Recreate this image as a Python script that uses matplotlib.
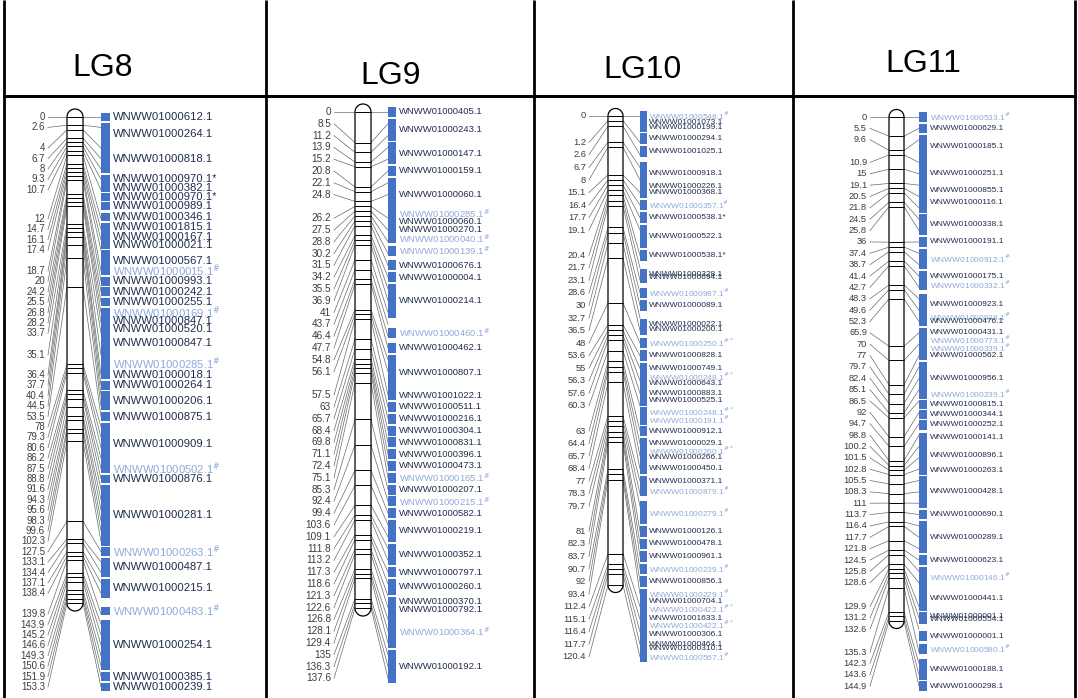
import matplotlib
matplotlib.use("Agg")
import matplotlib.pyplot as plt
import numpy as np
from matplotlib.patches import Rectangle

W, H = 1078, 698

# ---- linkage group data: locus positions (cM) and scaffold bins ----
# bins: (scaffold name, first locus, last locus) - loci counted from 0 along the group
lg8_pos = [0, 2.6, 4, 6.7, 8, 9.3, 10.7, 12, 14.7, 16.1, 17.4, 18.7, 20, 24.2, 25.5, 26.8,
           28.2, 33.7, 35.1, 36.4, 37.7, 40.4, 44.5, 53.5, 78, 79.3, 80.6, 86.2, 87.5, 88.8,
           91.6, 94.3, 95.6, 98.3, 99.6, 102.3, 127.5, 133.1, 134.4, 137.1, 138.4, 139.8,
           143.9, 145.2, 146.6, 149.3, 150.6, 151.9, 153.3]
lg8_bins = [
    ("WNWW01000612.1", 0, 0), ("WNWW01000264.1", 1, 1.6), ("WNWW01000818.1", 2, 4),
    ("WNWW01000970.1*", 5, 5), ("WNWW01000382.1", 5.8, 5.8), ("WNWW01000970.1*", 6.25, 6.25),
    ("WNWW01000989.1", 6.56, 6.56), ("WNWW01000346.1", 6.93, 6.93), ("WNWW01001815.1", 7.8, 7.8),
    ("WNWW01000167.1", 8.7, 8.7), ("WNWW01000021.1", 9.5, 9.5), ("WNWW01000567.1", 10.2, 10.8),
    ("WNWW01000015.1#", 11, 11), ("WNWW01000993.1", 12, 12), ("WNWW01000242.1", 13, 13),
    ("WNWW01000255.1", 14, 14), ("WNWW01000169.1#", 15, 15), ("WNWW01000847.1", 15.8, 15.8),
    ("WNWW01000520.1", 16.6, 16.6), ("WNWW01000847.1", 17, 17.9), ("WNWW01000285.1#", 18, 18.9),
    ("WNWW01000018.1", 19, 19), ("WNWW01000264.1", 20, 20), ("WNWW01000206.1", 21, 22),
    ("WNWW01000875.1", 23, 23), ("WNWW01000909.1", 24, 27.3), ("WNWW01000502.1#", 28, 28),
    ("WNWW01000876.1", 29, 29), ("WNWW01000281.1", 30, 35), ("WNWW01000263.1#", 36, 36),
    ("WNWW01000487.1", 37, 38), ("WNWW01000215.1", 39, 40), ("WNWW01000483.1#", 40.85, 40.85),
    ("WNWW01000254.1", 42, 46), ("WNWW01000385.1", 47, 47), ("WNWW01000239.1", 48, 48),
]

lg9_pos = [0, 8.5, 11.2, 13.9, 15.2, 20.8, 22.1, 24.8, 26.2, 27.5, 28.8, 30.2, 31.5, 34.2,
           35.5, 36.9, 41, 43.7, 46.4, 47.7, 54.8, 56.1, 57.5, 63, 65.7, 68.4, 69.8, 71.1,
           72.4, 75.1, 85.3, 92.4, 99.4, 103.6, 109.1, 111.8, 113.2, 117.3, 118.6, 121.3,
           122.6, 126.8, 128.1, 129.4, 135, 136.3, 137.6]
lg9_bins = [
    ("WNWW01000405.1", 0, 0), ("WNWW01000243.1", 1, 2), ("WNWW01000147.1", 3, 4),
    ("WNWW01000159.1", 5, 5), ("WNWW01000060.1", 6, 7.45), ("WNWW01000285.1#", 7.8, 7.8),
    ("WNWW01000060.1", 8.3, 8.3), ("WNWW01000270.1", 9, 9), ("WNWW01000040.1#", 9.7, 9.7),
    ("WNWW01000139.1#", 10.75, 10.75), ("WNWW01000676.1", 12, 12), ("WNWW01000004.1", 13, 13),
    ("WNWW01000214.1", 14, 16), ("WNWW01000460.1#", 17.7, 17.7), ("WNWW01000462.1", 19, 19),
    ("WNWW01000807.1", 20, 21.6), ("WNWW01001022.1", 22, 22), ("WNWW01000511.1", 23, 23),
    ("WNWW01000216.1", 24, 24), ("WNWW01000304.1", 25, 25), ("WNWW01000831.1", 26, 26),
    ("WNWW01000396.1", 27, 27), ("WNWW01000473.1", 28, 28), ("WNWW01000165.1#", 29, 29),
    ("WNWW01000207.1", 30, 30), ("WNWW01000215.1#", 31, 31), ("WNWW01000582.1", 32, 32),
    ("WNWW01000219.1", 33, 34), ("WNWW01000352.1", 35, 36), ("WNWW01000797.1", 37, 37),
    ("WNWW01000260.1", 38, 38.5), ("WNWW01000370.1", 39.5, 39.5), ("WNWW01000792.1", 40.2, 40.2),
    ("WNWW01000364.1#", 41, 43), ("WNWW01000192.1", 44, 46),
]

lg10_pos = [0, 1.2, 2.6, 6.7, 8, 15.1, 16.4, 17.7, 19.1, 20.4, 21.7, 23.1, 28.6, 30, 32.7,
            36.5, 48, 53.6, 55, 56.3, 57.6, 60.3, 63, 64.4, 65.7, 68.4, 77, 78.3, 79.7, 81,
            82.3, 83.7, 90.7, 92, 93.4, 112.4, 115.1, 116.4, 117.7, 120.4]
lg10_bins = [
    ("WNWW01000548.1#", 0, 0), ("WNWW01001073.1", 0.23, 0.23), ("WNWW01000199.1", 0.42, 0.42),
    ("WNWW01000294.1", 0.85, 0.85), ("WNWW01001025.1", 1.73, 1.73), ("WNWW01000918.1", 3, 4),
    ("WNWW01000226.1", 4.55, 4.55), ("WNWW01000368.1", 5, 5), ("WNWW01000357.1#", 6, 6),
    ("WNWW01000538.1*", 7, 7), ("WNWW01000522.1", 8, 8.5), ("WNWW01000538.1*", 9, 9),
    ("WNWW01000328.1", 10.55, 10.55), ("WNWW01000694.1", 10.75, 10.75), ("WNWW01000987.1#", 12, 12),
    ("WNWW01000089.1", 13, 13), ("WNWW01000022.1", 14.5, 14.5), ("WNWW01000200.1", 14.9, 14.9),
    ("WNWW01000250.1#*", 16, 16), ("WNWW01000828.1", 17, 17), ("WNWW01000749.1", 18, 18),
    ("WNWW01000248.1#*", 18.7, 18.7), ("WNWW01000643.1", 19.2, 19.2), ("WNWW01000883.1", 20, 20),
    ("WNWW01000525.1", 20.6, 20.6), ("WNWW01000248.1#*", 21.25, 21.25), ("WNWW01000191.1#", 21.55, 21.55),
    ("WNWW01000912.1", 22, 22), ("WNWW01000029.1", 23, 23), ("WNWW01000260.1#*", 23.6, 23.6),
    ("WNWW01000266.1", 24.15, 24.15), ("WNWW01000450.1", 25, 25), ("WNWW01000371.1", 26, 26),
    ("WNWW01000879.1#", 26.75, 26.75), ("WNWW01000279.1#", 28, 28.5), ("WNWW01000126.1", 29, 29),
    ("WNWW01000478.1", 30, 30), ("WNWW01000961.1", 31, 31), ("WNWW01000239.1#", 32, 32),
    ("WNWW01000856.1", 33, 33), ("WNWW01000229.1#", 34, 34), ("WNWW01000704.1", 34.6, 34.6),
    ("WNWW01000422.1#*", 35.15, 35.15), ("WNWW01001633.1", 35.9, 35.9), ("WNWW01000422.1#*", 36.45, 36.45),
    ("WNWW01000306.1", 37.2, 37.2), ("WNWW01000464.1", 38, 38), ("WNWW01000310.1", 38.3, 38.3),
    ("WNWW01000567.1#", 39, 39),
]

lg11_pos = [0, 5.5, 9.6, 10.9, 15, 19.1, 20.5, 21.8, 24.5, 25.8, 36, 37.4, 38.7, 41.4, 42.7,
            48.3, 49.6, 52.3, 65.9, 70, 77, 79.7, 82.4, 85.1, 86.5, 92, 94.7, 98.8, 100.2,
            101.5, 102.8, 105.5, 108.3, 111, 113.7, 116.4, 117.7, 121.8, 124.5, 125.8, 128.6,
            129.9, 131.2, 132.6, 135.3, 142.3, 143.6, 144.9]
lg11_bins = [
    ("WNWW01000533.1#", 0, 0), ("WNWW01000629.1", 1, 1), ("WNWW01000185.1", 2, 2.6),
    ("WNWW01000251.1", 3, 5), ("WNWW01000855.1", 5.5, 5.5), ("WNWW01000116.1", 6, 7),
    ("WNWW01000338.1", 8, 9), ("WNWW01000191.1", 10, 10), ("WNWW01000912.1#", 11, 12),
    ("WNWW01000175.1", 13, 13), ("WNWW01000332.1#", 13.8, 13.8), ("WNWW01000923.1", 15, 16),
    ("WNWW01000938.1#", 16.6, 16.6), ("WNWW01000476.1", 17, 17), ("WNWW01000431.1", 18, 18),
    ("WNWW01000773.1#", 18.65, 18.65), ("WNWW01000339.1#", 19.35, 19.35), ("WNWW01000562.1", 20, 20),
    ("WNWW01000956.1", 21, 23), ("WNWW01000239.1#", 23.4, 23.4), ("WNWW01000815.1", 24.3, 24.3),
    ("WNWW01000344.1", 25.2, 25.2), ("WNWW01000252.1", 26.1, 26.1), ("WNWW01000141.1", 27.2, 27.2),
    ("WNWW01000896.1", 28, 29.6), ("WNWW01000263.1", 30.1, 30.1), ("WNWW01000428.1", 31, 33),
    ("WNWW01000690.1", 34, 34), ("WNWW01000289.1", 35, 37), ("WNWW01000623.1", 38, 38),
    ("WNWW01000146.1#", 39, 40), ("WNWW01000441.1", 40.3, 41), ("WNWW01000001.1", 41.85, 41.85),
    ("WNWW01000554.1", 42.15, 42.15), ("WNWW01000001.1", 43.3, 43.3), ("WNWW01000580.1#", 43.87, 43.87),
    ("WNWW01000188.1", 45, 46), ("WNWW01000298.1", 47, 47),
]

# ---- layout of each panel (pixels) ----
panels = [
    dict(title="LG8", pos=lg8_pos, bins=lg8_bins, gaps={1: 1.0, 6: 1.8, 10: 1.0, 17: 1.1, 18: 0.9, 40: 1.0},
         cell=(4, 266), y0=117, y1=603, chrom=(67, 83), num_x=45, bar=(101, 110), text_x=113,
         num_fs=6.9, name_fs=8.1, slot_px=10.4, head=(103, 76)),
    dict(title="LG9", pos=lg9_pos, bins=lg9_bins, gaps={7: 1.0, 21: 1.0},
         cell=(266, 534), y0=112, y1=608, chrom=(355, 371), num_x=331, bar=(388, 396), text_x=399,
         num_fs=7.2, name_fs=6.8, slot_px=11.8, head=(391, 84)),
    dict(title="LG10", pos=lg10_pos, bins=lg10_bins, gaps={0: 1.1, 8: 1.0, 21: 1.0, 28: 1.0},
         cell=(534, 793), y0=116, y1=585, chrom=(608, 623), num_x=586, bar=(640, 647), text_x=649,
         num_fs=6.7, name_fs=6.0, slot_px=12.55, head=(642, 78)),
    dict(title="LG11", pos=lg11_pos, bins=lg11_bins, gaps={2: 1.0, 40: 1.1, 43: 1.0},
         cell=(793, 1075), y0=117, y1=621, chrom=(889, 904), num_x=867, bar=(919, 927), text_x=930,
         num_fs=6.7, name_fs=6.0, slot_px=11.36, head=(923, 72)),
]

BODY_TOP = 98
NUM_FONT = ["Liberation Sans", "DejaVu Sans"]
NAME_FONT = ["Liberation Sans", "DejaVu Sans"]
DARK = "#1f2c4c"
LIGHT = "#8eaadb"
BAR = "#4472c4"
LINE = "#6a6a6a"


def fmt_name(name):
    if name.endswith("#*"):
        return name[:-2] + r"$^{\#*}$"
    if name.endswith("#"):
        return name[:-1] + r"$^{\#}$"
    return name


fig = plt.figure(figsize=(W / 100, H / 100), dpi=100)

# background table
bg = fig.add_axes([0, 0, 1, 1])
bg.set_xlim(0, W)
bg.set_ylim(H, 0)
bg.axis("off")
for x in [4, 266, 534, 793, 1075]:
    bg.plot([x, x], [0, H], color="black", lw=2.0, solid_capstyle="butt")
bg.plot([4, 1075], [96, 96], color="black", lw=2.2)

for p in panels:
    bg.text(p["head"][0], p["head"][1], p["title"], ha="center", va="baseline",
            fontsize=23, family=NAME_FONT, color="black")

    pos = np.array(p["pos"], dtype=float)
    n = len(pos)
    scale = (p["y1"] - p["y0"]) / pos.max()        # px per cM
    slot_cm = p["slot_px"] / scale

    l, r = p["cell"]
    ax = fig.add_axes([l / W, 0, (r - l) / W, (H - BODY_TOP) / H])
    ax.set_xlim(l, r)
    ax.set_ylim((H - p["y0"]) / scale, (BODY_TOP - p["y0"]) / scale)
    ax.axis("off")

    # label slots for the loci (spread out, with extra room where needed)
    extra = np.zeros(n)
    for k, v in p["gaps"].items():
        extra[k + 1:] += v
    slots = (np.arange(n) + extra) * slot_cm

    def slot_at(f):
        return np.interp(f, np.arange(n), slots)

    c0, c1 = p["chrom"]
    cx = (c0 + c1) / 2
    rad = (c1 - c0) / 2
    rc = rad / scale
    L = pos.max()
    t1 = np.linspace(np.pi, 0, 40)
    t2 = np.linspace(0, np.pi, 40)
    ox = np.concatenate([cx + rad * np.cos(t1), [c1, c1], cx + rad * np.cos(t2), [c0, c0]])
    oy = np.concatenate([-rc * np.sin(t1), [0, L], L + rc * np.sin(t2), [L, 0]])
    ax.fill(ox, oy, facecolor="white", edgecolor="black", lw=0.9, zorder=3)
    ax.hlines(pos, c0, c1, color="black", lw=0.7, zorder=4)

    # position labels and connectors
    for i in range(n):
        v = pos[i]
        ax.text(p["num_x"], slots[i], f"{v:g}", ha="right", va="center", fontsize=p["num_fs"],
                family=NUM_FONT, color="#3c3c3c", clip_on=False)
        ax.plot([p["num_x"] + 3, c0], [slots[i], v], color=LINE, lw=0.5, zorder=2)
        ax.plot([c1, p["bar"][0]], [v, slots[i]], color=LINE, lw=0.5, zorder=2)

    # scaffold bins
    h = 0.42 * slot_cm
    b0, b1 = p["bar"]
    for name, lo, hi in p["bins"]:
        ylo, yhi = slot_at(lo), slot_at(hi)
        ax.add_patch(Rectangle((b0, ylo - h), b1 - b0, yhi - ylo + 2 * h,
                               facecolor=BAR, edgecolor="none", zorder=5))
        col = LIGHT if "#" in name else DARK
        ax.text(p["text_x"], (ylo + yhi) / 2, fmt_name(name), ha="left", va="center",
                fontsize=p["name_fs"], family=NAME_FONT, color=col, clip_on=False, zorder=6)

fig.savefig("out.png", dpi=100)
